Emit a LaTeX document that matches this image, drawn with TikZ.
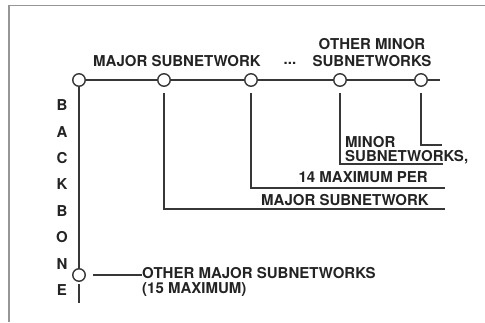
\documentclass[tikz,border=0pt]{standalone}
\usepackage{fontspec}
\setmainfont{TeX Gyre Heros}
\usepackage{xcolor}
\definecolor{netink}{RGB}{55,55,55}
\definecolor{nettext}{RGB}{35,35,35}
\definecolor{netframe}{RGB}{150,150,150}
\usepackage{tikz}
\usetikzlibrary{positioning}
\tikzset{
  tap/.style={draw=netink, circle, fill=white, line width=1.4pt, minimum size=12.5pt, inner sep=0pt},
  wire/.style={draw=netink, line width=1.4pt},
  lbl/.style={font=\bfseries\fontsize{15}{17}\selectfont, text=nettext, inner sep=0pt},
  border/.style={draw=netframe, line width=1.2pt}
}

\begin{document}
\begin{tikzpicture}[x=1pt, y=-1pt]
  \useasboundingbox (0,0) rectangle (485,322);
  \draw[border] (9,322) -- (9,5.5) -- (485,5.5);
  % taps on the backbone and on the major subnetwork
  \node[tap] (b0) at (79,80) {};
  \node[tap] (b1) at (79,275) {};
  \node[tap] (m1) at (164,80) {};
  \node[tap] (m2) at (251,80) {};
  \node[tap] (m3) at (340,80) {};
  \node[tap] (m4) at (421,80) {};
  \coordinate (t4) at (440,80);
  \coordinate (bt) at (79,284);
  \coordinate (be) at (79,303);
  \coordinate (bo) at (93,275);
  \coordinate (d1) at (164,93);
  \coordinate (d2) at (251,93);
  \coordinate (d3) at (340,93);
  \coordinate (d4) at (421,93);
  \coordinate (e1) at (445,209);
  \coordinate (e2) at (445,188);
  \coordinate (e3) at (443,164);
  \coordinate (e4) at (442,145);
  \node[lbl, font=\bfseries\fontsize{15}{15}\selectfont, align=left, anchor=north west] (lo) at (142,267.6) {OTHER MAJOR SUBNETWORKS\\(15 MAXIMUM)};
  \draw[wire] (b0) -- (m1) -- (m2) -- (m3) -- (m4) -- (t4);
  \draw[wire] (b0) -- (b1);
  \draw[wire] (bt) -- (be);
  \draw[wire] (bo) -- (lo.west |- bo);
  \draw[wire] (d1) |- (e1);
  \draw[wire] (d2) |- (e2);
  \draw[wire] (d3) |- (e3);
  \draw[wire] (d4) |- (e4);
  % labels
  \node[lbl] (lmaj) at (177,61) {MAJOR SUBNETWORK};
  \node[lbl] (ldots) at (290,63) {...};
  \node[lbl, align=center, anchor=north] (lmin) at (372,38.6) {OTHER MINOR\\SUBNETWORKS};
  \node[lbl, font=\bfseries\fontsize{15}{13.5}\selectfont, align=left, anchor=north west] (lper) at (345,136.4) {MINOR\\SUBNETWORKS,};
  \node[lbl, anchor=east] (lmax) at (428,177) {14 MAXIMUM PER};
  \node[lbl, anchor=east] (lsub) at (429,200) {MAJOR SUBNETWORK};
  \node[lbl, font=\bfseries\fontsize{15}{26.4}\selectfont, align=center, anchor=north] (lbb) at (62,99.6) {B\\A\\C\\K\\B\\O\\N\\E};
\end{tikzpicture}
\end{document}
